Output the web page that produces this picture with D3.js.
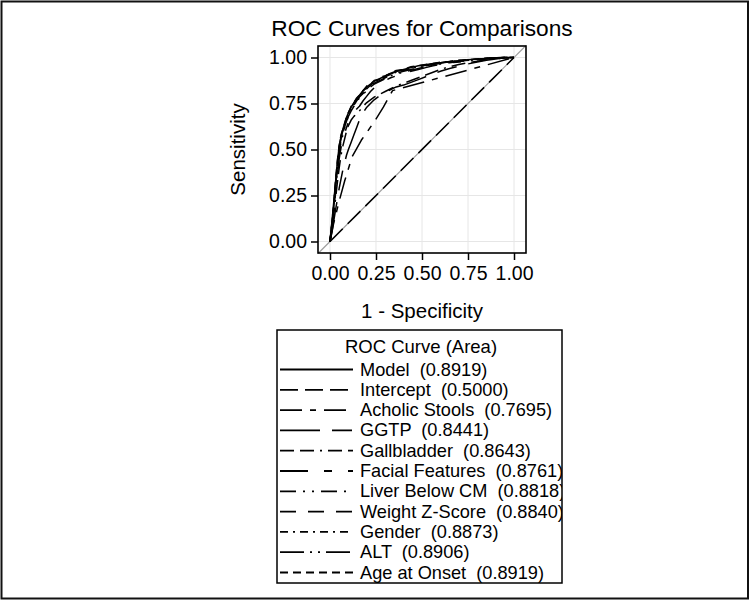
<!DOCTYPE html>
<html><head><meta charset="utf-8">
<script src="https://cdn.jsdelivr.net/npm/d3@7"></script>
<style>
html,body{margin:0;padding:0;background:#fff;}
text{font-family:"Liberation Sans",Arial,sans-serif;fill:#000;white-space:pre;}
</style></head>
<body>
<svg id="c" width="751" height="601"></svg>
<script>
// ---- data ----
const chartTitle = "ROC Curves for Comparisons";
const xLabel = "1 - Specificity";
const yLabel = "Sensitivity";
const legendTitle = "ROC Curve (Area)";
const tickValues = [0, 0.25, 0.5, 0.75, 1];
const tickLabels = ["0.00", "0.25", "0.50", "0.75", "1.00"];

const seriesNames = ["Model", "Intercept", "Acholic Stools", "GGTP", "Gallbladder", "Facial Features",
  "Liver Below CM", "Weight Z-Score", "Gender", "ALT", "Age at Onset"];
const seriesAreas = ["0.8919", "0.5000", "0.7695", "0.8441", "0.8643", "0.8761", "0.8818", "0.8840", "0.8873", "0.8906", "0.8919"];

// shared false-positive-rate grid for the continuous-score curves
const fprGrid = [0, .01, .02, .03, .04, .05, .06, .07, .08, .09, .1, .115, .13, .145, .16, .18, .2, .22, .24, .26, .28, .3, .33, .36, .4, .44, .48, .52, .56, .6, .65, .7, .75, .8, .85, .9, .95, 1];
const tprModel    = [0, .1, .21, .32, .43, .52, .57, .61, .645, .675, .70, .73, .755, .775, .795, .82, .84, .855, .87, .88, .89, .9, .915, .925, .935, .945, .955, .96, .967, .972, .978, .983, .988, .992, .995, .998, 1, 1];
const tprGGTP     = [0, .05, .11, .17, .23, .29, .34, .39, .43, .47, .5, .54, .58, .62, .66, .7, .73, .75, .77, .785, .8, .81, .825, .84, .85, .865, .88, .895, .91, .925, .94, .952, .965, .975, .985, .992, .998, 1];
const tprGallbl   = [0, .06, .14, .23, .32, .4, .47, .52, .56, .6, .63, .66, .68, .695, .71, .735, .755, .77, .785, .795, .805, .815, .83, .845, .86, .875, .89, .905, .92, .935, .95, .962, .972, .98, .987, .993, .998, 1];
const tprFacial   = [0, .07, .16, .26, .36, .45, .51, .55, .59, .62, .65, .68, .7, .72, .735, .765, .79, .815, .835, .85, .865, .875, .89, .9, .91, .925, .935, .945, .955, .962, .97, .976, .982, .988, .992, .996, 1, 1];
const tprLiver    = [0, .08, .17, .28, .39, .48, .54, .58, .62, .65, .68, .71, .735, .76, .78, .8, .82, .84, .855, .865, .875, .885, .9, .91, .92, .93, .94, .95, .958, .965, .972, .978, .984, .989, .993, .997, 1, 1];
const tprWeight   = [0, .08, .18, .29, .4, .49, .55, .59, .625, .655, .685, .715, .74, .765, .785, .805, .825, .845, .86, .87, .88, .89, .905, .915, .925, .935, .945, .955, .962, .968, .975, .98, .985, .99, .994, .997, 1, 1];
const tprGender   = [0, .09, .19, .3, .41, .5, .56, .6, .635, .665, .69, .72, .745, .77, .79, .81, .83, .85, .865, .875, .885, .895, .91, .92, .93, .94, .95, .958, .965, .97, .976, .982, .987, .991, .995, .998, 1, 1];
const tprALT      = [0, .09, .2, .31, .42, .51, .57, .6, .64, .67, .695, .73, .75, .775, .79, .82, .835, .855, .865, .88, .885, .9, .91, .925, .93, .945, .95, .96, .965, .972, .977, .983, .987, .991, .995, .998, 1, 1];
const tprAge      = [0, .1, .2, .33, .44, .52, .58, .61, .64, .68, .70, .735, .755, .78, .795, .82, .845, .855, .875, .88, .895, .9, .915, .93, .935, .95, .955, .962, .967, .975, .978, .985, .988, .992, .996, .998, 1, 1];

const fprIntercept = [0, 1];
const tprIntercept = [0, 1];
const fprAcholic = [0, .02, .05, .08, .12, .17, .24, .29, .34, 1];
const tprAcholic = [0, .1, .22, .33, .46, .55, .65, .73, .82, 1];

// ---- styles (not data) ----
const dashes = ["", "18,7", "22,8,6,8", "40,12,20,12", "14,6,14,6,2,6", "28,16,8,16",
  "16,7,2,7,2,7", "16,12", "8,5,2,5", "24,6,2,6,2,6", "8,5"];

const seriesData = [
  [fprGrid, tprModel], [fprIntercept, tprIntercept], [fprAcholic, tprAcholic], [fprGrid, tprGGTP],
  [fprGrid, tprGallbl], [fprGrid, tprFacial], [fprGrid, tprLiver], [fprGrid, tprWeight],
  [fprGrid, tprGender], [fprGrid, tprALT], [fprGrid, tprAge]
].map(([xs, ys]) => xs.map((x, i) => [x, ys[i]]));

const svg = d3.select("#c");
svg.append("rect").attr("x", 1.5).attr("y", 1.5).attr("width", 746.5).attr("height", 597)
  .attr("fill", "#fff").attr("stroke", "#111").attr("stroke-width", 2);

const X0 = 318, X1 = 526, Y0 = 253, Y1 = 46;
const x = d3.scaleLinear().domain([-0.0652, 1.0652]).range([X0, X1]);
const y = d3.scaleLinear().domain([-0.0625, 1.0625]).range([Y0, Y1]);

// grid
const g = svg.append("g");
g.selectAll(".gx").data(tickValues).join("line")
  .attr("x1", d => x(d)).attr("x2", d => x(d)).attr("y1", Y1).attr("y2", Y0)
  .attr("stroke", "#e6e6e6").attr("stroke-width", 1);
g.selectAll(".gy").data(tickValues).join("line").attr("class", "gy")
  .attr("y1", d => y(d)).attr("y2", d => y(d)).attr("x1", X0).attr("x2", X1)
  .attr("stroke", "#e6e6e6").attr("stroke-width", 1);

// reference diagonal
g.append("line").attr("x1", x(-0.0652)).attr("y1", y(-0.0652)).attr("x2", x(1.0652)).attr("y2", y(1.0652))
  .attr("stroke", "#a0a0a0").attr("stroke-width", 1.2);

// curves
const line = d3.line().x(d => x(d[0])).y(d => y(d[1]));
const drawOrder = [1, 2, 3, 4, 5, 6, 7, 8, 9, 10, 0];
drawOrder.forEach(i => {
  g.append("path").attr("d", line(seriesData[i])).attr("fill", "none")
    .attr("stroke", "#000").attr("stroke-width", 1.5)
    .attr("stroke-dasharray", dashes[i] || null).attr("stroke-linejoin", "round");
});

// frame
svg.append("rect").attr("x", X0).attr("y", Y1).attr("width", X1 - X0).attr("height", Y0 - Y1)
  .attr("fill", "none").attr("stroke", "#000").attr("stroke-width", 1.6);

// axes
const fmt = d => tickLabels[tickValues.indexOf(d)];
const xAxis = svg.append("g").attr("transform", `translate(0,${Y0})`)
  .call(d3.axisBottom(x).tickValues(tickValues).tickFormat(fmt).tickSize(7).tickPadding(6));
const yAxis = svg.append("g").attr("transform", `translate(${X0},0)`)
  .call(d3.axisLeft(y).tickValues(tickValues).tickFormat(fmt).tickSize(7).tickPadding(4));
[xAxis, yAxis].forEach(a => {
  a.select(".domain").remove();
  a.selectAll(".tick line").attr("stroke", "#000").attr("stroke-width", 1.5);
  a.selectAll(".tick text").attr("font-size", 19.5).attr("font-family", "Liberation Sans, Arial, sans-serif").attr("fill", "#000");
});

// titles
svg.append("text").attr("x", (X0 + X1) / 2).attr("y", 28).attr("text-anchor", "middle")
  .attr("dominant-baseline", "central").attr("font-size", 22.7).text(chartTitle);
svg.append("text").attr("x", (X0 + X1) / 2).attr("y", 310).attr("text-anchor", "middle")
  .attr("dominant-baseline", "central").attr("font-size", 20.5).text(xLabel);
svg.append("text").attr("transform", `translate(237,${y(0.5)}) rotate(-90)`).attr("text-anchor", "middle")
  .attr("dominant-baseline", "central").attr("font-size", 20.5).text(yLabel);

// legend
const LX0 = 277, LX1 = 562, LY0 = 330, LY1 = 583;
const leg = svg.append("g");
leg.append("defs").append("clipPath").attr("id", "lc").append("rect")
  .attr("x", LX0).attr("y", LY0).attr("width", LX1 - LX0).attr("height", LY1 - LY0);
leg.append("rect").attr("x", LX0).attr("y", LY0).attr("width", LX1 - LX0).attr("height", LY1 - LY0)
  .attr("fill", "#fff").attr("stroke", "#000").attr("stroke-width", 1.5);
const lg = leg.append("g").attr("clip-path", "url(#lc)");
lg.append("text").attr("x", 421).attr("y", 346).attr("text-anchor", "middle")
  .attr("dominant-baseline", "central").attr("font-size", 18.5).text(legendTitle);
seriesNames.forEach((n, i) => {
  const yy = 369.5 + i * 20.3;
  lg.append("line").attr("x1", 280).attr("x2", 353).attr("y1", yy).attr("y2", yy)
    .attr("stroke", "#000").attr("stroke-width", 1.8).attr("stroke-dasharray", dashes[i] || null);
  lg.append("text").attr("x", 360).attr("y", yy).attr("dominant-baseline", "central")
    .attr("font-size", 18.2).text(n + "  (" + seriesAreas[i] + ")");
});
</script>
</body></html>
